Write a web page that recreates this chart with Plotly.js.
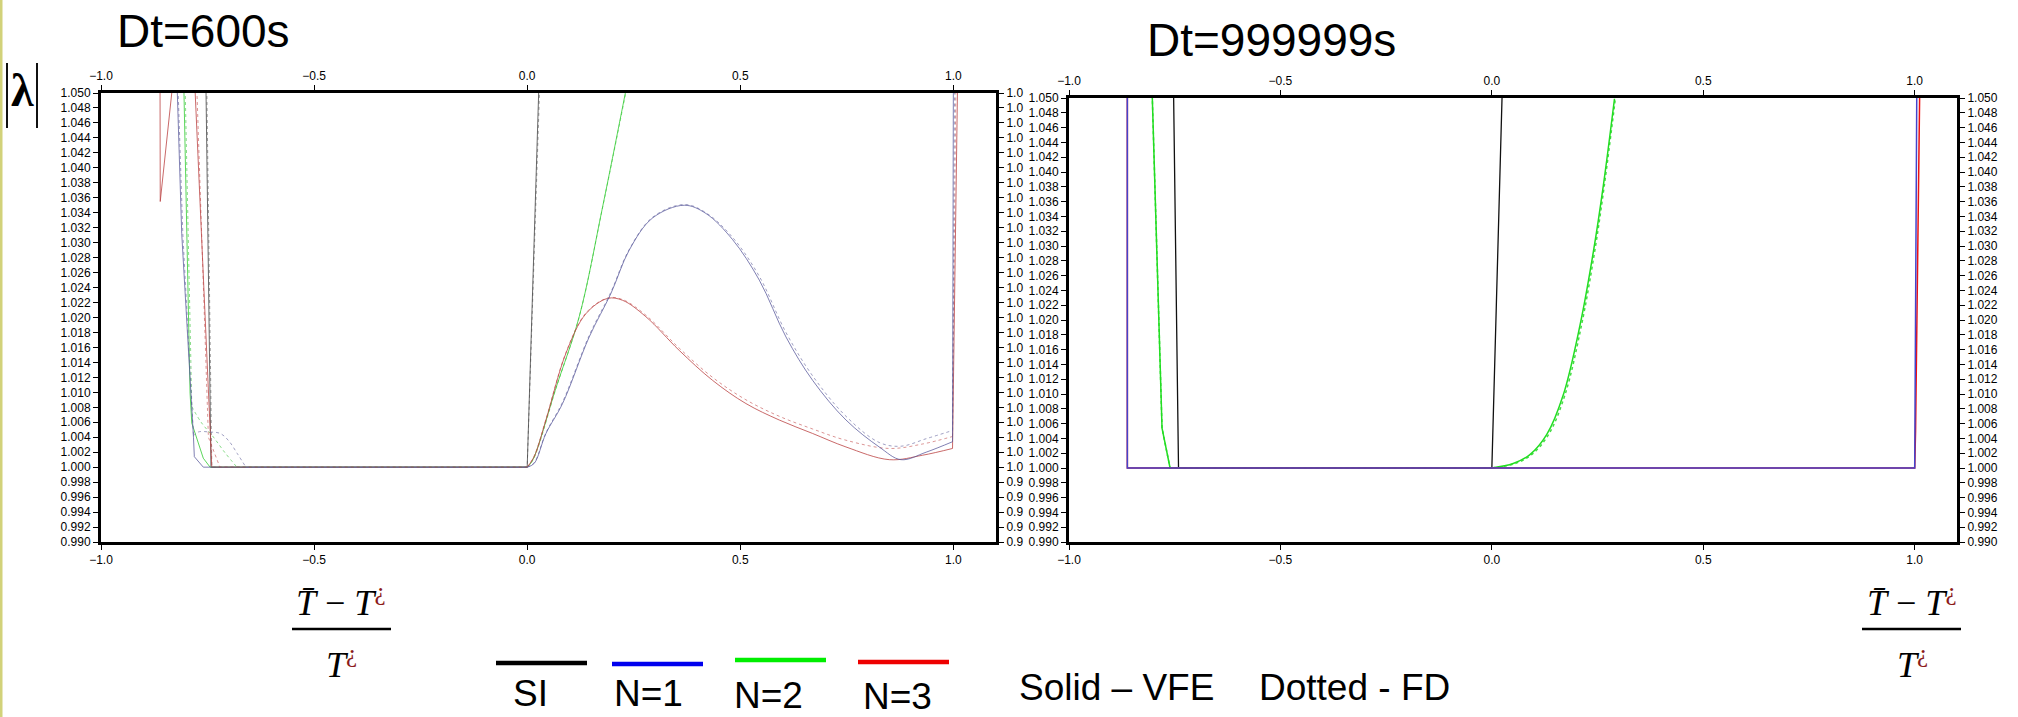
<!DOCTYPE html>
<html>
<head>
<meta charset="utf-8">
<script src="https://cdn.plot.ly/plotly-3.0.1.min.js"></script>
<style>html,body{margin:0;padding:0;background:#fff;}#chart{width:2018px;height:717px;}</style>
</head>
<body>
<div id="chart"></div>
<script>
// ---------- Data: Dt = 600 s (left panel) ----------
const p1_si_x    = [-0.754, -0.742, 0.000, 0.028];
const p1_si_y    = [1.052, 1.000, 1.000, 1.052];
const p1_si_fd_x = [-0.752, -0.740, 0.000, 0.030];
const p1_si_fd_y = [1.052, 1.000, 1.000, 1.052];

const p1_n1_x = [-0.822, -0.8106, -0.783, -0.781, -0.760, 0.000, 0.0164, 0.044, 0.083, 0.1455, 0.1964, 0.2394, 0.2942, 0.3685, 0.4194, 0.482, 0.5446, 0.6072, 0.6698, 0.748, 0.826, 0.877, 0.936, 0.998, 1.000];
const p1_n1_y = [1.052, 1.0312, 1.0040, 1.0014, 1.0000, 1.0000, 1.0005, 1.0045, 1.0085, 1.0174, 1.0232, 1.0290, 1.0333, 1.0350, 1.0339, 1.0304, 1.0250, 1.0174, 1.0116, 1.0063, 1.0027, 1.0010, 1.0020, 1.0034, 1.052];
const p1_n1_fd_x = [-0.820, -0.808, -0.783, -0.772, -0.745, -0.720, -0.700, -0.680, -0.660, 0.000, 0.0164, 0.044, 0.083, 0.1455, 0.1964, 0.2394, 0.2942, 0.3685, 0.4194, 0.482, 0.5446, 0.6072, 0.6698, 0.748, 0.826, 0.877, 0.936, 0.998, 1.003];
const p1_n1_fd_y = [1.052, 1.0312, 1.0042, 1.0047, 1.0047, 1.0045, 1.0035, 1.0018, 1.0000, 1.0000, 1.0006, 1.0046, 1.0087, 1.0176, 1.0234, 1.0291, 1.0334, 1.0351, 1.0340, 1.0307, 1.0255, 1.0180, 1.0122, 1.0068, 1.0033, 1.0028, 1.0038, 1.0049, 1.052];

const p1_n2_x = [-0.806, -0.791, -0.787, -0.760, -0.744, 0.000, 0.0125, 0.067, 0.122, 0.177, 0.232];
const p1_n2_y = [1.052, 1.0099, 1.0059, 1.0012, 1.0000, 1.0000, 1.0009, 1.0105, 1.0201, 1.0348, 1.0505];
const p1_n2_fd_x = [-0.803, -0.787, -0.765, -0.736, -0.710, -0.681, 0.000, 0.014, 0.068, 0.123, 0.178, 0.233];
const p1_n2_fd_y = [1.052, 1.0081, 1.0060, 1.0040, 1.0020, 1.0000, 1.0000, 1.0010, 1.0106, 1.0203, 1.0350, 1.0505];

const p1_n3_x = [-0.8615, -0.861, -0.834, -0.806, -0.779, -0.740, 0.000, 0.0164, 0.044, 0.0908, 0.1377, 0.1886, 0.2238, 0.2786, 0.3568, 0.435, 0.5133, 0.5915, 0.6698, 0.748, 0.8498, 0.928, 0.998, 1.010];
const p1_n3_y = [1.052, 1.0355, 1.0500, 1.0600, 1.0500, 1.0000, 1.0000, 1.0014, 1.0063, 1.0152, 1.0205, 1.02255, 1.0223, 1.0201, 1.0156, 1.0116, 1.0085, 1.0063, 1.0045, 1.0027, 1.0010, 1.0016, 1.0025, 1.052];
const p1_n3_fd_x = [-0.776, -0.748, -0.721, 0.000, 0.0164, 0.044, 0.0908, 0.1377, 0.1886, 0.2238, 0.2786, 0.3568, 0.435, 0.5133, 0.5915, 0.6698, 0.748, 0.8498, 0.928, 0.998, 1.006];
const p1_n3_fd_y = [1.052, 1.0040, 1.0000, 1.0000, 1.0015, 1.0064, 1.0153, 1.0206, 1.0226, 1.0224, 1.0203, 1.0159, 1.0120, 1.0090, 1.0068, 1.0051, 1.0036, 1.0025, 1.0031, 1.0041, 1.052];

// ---------- Data: Dt = 999999 s (right panel) ----------
const p2_si_x = [-0.753, -0.741, 0.000, 0.025];
const p2_si_y = [1.052, 1.000, 1.000, 1.052];
const p2_n1_x = [-0.862, -0.862, 1.000, 1.005];
const p2_n1_y = [1.052, 1.000, 1.000, 1.052];
const p2_n2_x = [-0.804, -0.780, -0.761, 0.000, 0.0505, 0.090, 0.1296, 0.169, 0.2085, 0.240, 0.2637, 0.290];
const p2_n2_y = [1.052, 1.0054, 1.000, 1.000, 1.0006, 1.0018, 1.0045, 1.0099, 1.0193, 1.0292, 1.0382, 1.0499];
const p2_n2_fd_x = [-0.804, -0.780, -0.761, 0.000, 0.055, 0.094, 0.134, 0.173, 0.212, 0.243, 0.266, 0.292];
const p2_n2_fd_y = [1.052, 1.0054, 1.000, 1.000, 1.0006, 1.0018, 1.0045, 1.0099, 1.0193, 1.0292, 1.0382, 1.0499];
const p2_n3_x = [-0.862, -0.862, 1.000, 1.002, 1.012];
const p2_n3_y = [1.052, 1.000, 1.000, 1.005, 1.052];

// ---------- Labels / ticks ----------
const titles = ["Dt=600s", "Dt=999999s"];
const seriesNames = ["SI", "N=1", "N=2", "N=3"];
const seriesColors = ["#000000", "#0000ee", "#00ee00", "#ee0000"];
const styleNote = ["Solid \u2013 VFE", "Dotted - FD"];
const xTicks = [-1, -0.5, 0, 0.5, 1];
const yTicks = [0.990, 0.992, 0.994, 0.996, 0.998, 1.000, 1.002, 1.004, 1.006, 1.008, 1.010,
                1.012, 1.014, 1.016, 1.018, 1.020, 1.022, 1.024, 1.026, 1.028, 1.030,
                1.032, 1.034, 1.036, 1.038, 1.040, 1.042, 1.044, 1.046, 1.048, 1.050];
// the left panel's right-hand labels are cut short by the neighbouring panel in the original
const yTickLabels = yTicks.map(v => v.toFixed(3));
const yTickLabelsCut = yTickLabels.map(s => s.slice(0, 3));

// ---------- Helpers ----------
const W = 2018, H = 717;
const X = px => px / W;
const Y = py => 1 - py / H;

// segs: list of [startIndex, endIndex, shape]; straight pieces stay linear, smooth pieces use splines
function series(x, y, xa, ya, color, dash, width, opacity, segs) {
  segs = segs || [[0, x.length - 1, 'linear']];
  return segs.map(s => ({
    x: x.slice(s[0], s[1] + 1), y: y.slice(s[0], s[1] + 1), xaxis: xa, yaxis: ya,
    type: 'scatter', mode: 'lines',
    line: {color: color, width: width, dash: dash, shape: s[2], smoothing: 1},
    opacity: opacity, hoverinfo: 'skip', showlegend: false
  }));
}
const L = 'linear', S = 'spline';

const data = [].concat(
  // left panel
  series(p1_si_fd_x, p1_si_fd_y, 'x', 'y', '#888888', 'dot', 1, 0.8),
  series(p1_si_x, p1_si_y, 'x', 'y', '#444444', 'solid', 1, 0.8),
  series(p1_n2_fd_x, p1_n2_fd_y, 'x', 'y', '#55cc55', 'dot', 1, 0.7, [[0,1,L],[1,5,S],[5,6,L],[6,11,S]]),
  series(p1_n2_x, p1_n2_y, 'x', 'y', '#33cc33', 'solid', 1, 0.8, [[0,5,L],[5,10,S]]),
  series(p1_n3_fd_x, p1_n3_fd_y, 'x', 'y', '#cc6666', 'dot', 1, 0.7, [[0,3,L],[3,19,S],[19,20,L]]),
  series(p1_n3_x, p1_n3_y, 'x', 'y', '#bb4444', 'solid', 1, 0.8, [[0,6,L],[6,22,S],[22,23,L]]),
  series(p1_n1_fd_x, p1_n1_fd_y, 'x', 'y', '#7777aa', 'dot', 1, 0.7, [[0,2,L],[2,8,S],[8,9,L],[9,27,S],[27,28,L]]),
  series(p1_n1_x, p1_n1_y, 'x', 'y', '#555599', 'solid', 1, 0.75, [[0,5,L],[5,23,S],[23,24,L]]),
  // right panel
  series(p2_si_x, p2_si_y, 'x2', 'y2', '#111111', 'solid', 1.3, 1),
  series(p2_n2_fd_x, p2_n2_fd_y, 'x2', 'y2', '#44dd44', 'dot', 1.5, 1, [[0,3,L],[3,11,S]]),
  series(p2_n2_x, p2_n2_y, 'x2', 'y2', '#22dd22', 'solid', 1.5, 1, [[0,3,L],[3,11,S]]),
  series(p2_n3_x, p2_n3_y, 'x2', 'y2', '#ee1111', 'solid', 1.5, 1),
  series(p2_n1_x, p2_n1_y, 'x2', 'y2', '#4444cc', 'solid', 1.5, 1),
  // empty traces so the mirrored (top / right) axes get drawn
  [{x: [], y: [], xaxis: 'x3', yaxis: 'y3', type: 'scatter', mode: 'lines', showlegend: false, hoverinfo: 'skip'},
   {x: [], y: [], xaxis: 'x4', yaxis: 'y4', type: 'scatter', mode: 'lines', showlegend: false, hoverinfo: 'skip'}]
);

const tickFont = {family: 'Liberation Sans, Arial, sans-serif', size: 12, color: '#000'};
function xax(domain, side, overlay, anchor) {
  const a = {domain: domain, range: [-1, 1.1], side: side, anchor: anchor,
    tickmode: 'array', tickvals: xTicks, tickformat: '.1f',
    ticks: 'outside', ticklen: 5, tickwidth: 1, tickcolor: '#000',
    showline: true, linewidth: 3, linecolor: '#000', showgrid: false, zeroline: false,
    tickfont: tickFont, fixedrange: true, autorange: false};
  if (overlay) a.overlaying = overlay;
  return a;
}
function yax(domain, side, overlay, anchor, labels) {
  const a = {domain: domain, range: [0.99, 1.05], side: side, anchor: anchor,
    tickmode: 'array', tickvals: yTicks, ticktext: labels, tickangle: 0,
    ticks: 'outside', ticklen: 5, tickwidth: 1, tickcolor: '#000',
    showline: true, linewidth: 3, linecolor: '#000', showgrid: false, zeroline: false,
    tickfont: tickFont, fixedrange: true, autorange: false};
  if (overlay) a.overlaying = overlay;
  return a;
}

const d1x = [X(101), X(996)], d1y = [Y(542), Y(93)];
const d2x = [X(1069), X(1957)], d2y = [Y(542), Y(98)];

const annFont = {family: 'Liberation Sans, Arial, sans-serif', color: '#000'};
const serif = {family: 'Liberation Serif, Times New Roman, serif', color: '#000'};
function ann(text, px, py, size, xanchor, font) {
  return {text: text, x: X(px), y: Y(py), xref: 'paper', yref: 'paper',
    xanchor: xanchor || 'center', yanchor: 'middle', showarrow: false,
    font: Object.assign({}, font || annFont, {size: size})};
}
const numer = "<i>T\u0304</i> \u2212 <i>T</i><sup><span style='color:#8b1a1a'>\u00bf</span></sup>";
const denom = "<i>T</i><sup><span style='color:#8b1a1a'>\u00bf</span></sup>";

const annotations = [
  ann(titles[0], 203, 31, 46),
  ann(titles[1], 1271, 40, 46),
  ann("<b>\u03bb</b>", 22, 90, 46, 'center', serif),
  ann(numer, 341, 600, 36, 'center', serif),
  ann(denom, 341, 662, 36, 'center', serif),
  ann(numer, 1912, 600, 36, 'center', serif),
  ann(denom, 1912, 662, 36, 'center', serif),
  ann(seriesNames[0], 530, 693, 37),
  ann(seriesNames[1], 648, 693, 37),
  ann(seriesNames[2], 768, 695, 37),
  ann(seriesNames[3], 897, 696, 37),
  ann(styleNote[0], 1017, 687, 37, 'left'),
  ann(styleNote[1], 1257, 687, 37, 'left')
];

function pline(x0, y0, x1, y1, color, width) {
  return {type: 'line', xref: 'paper', yref: 'paper', x0: X(x0), y0: Y(y0), x1: X(x1), y1: Y(y1),
    line: {color: color, width: width}, layer: 'above'};
}
const legendLines = [[496, 587, 663], [612, 703, 664], [735, 826, 660], [858, 949, 662]];
const shapes = [
  // yellow edge strip
  {type: 'rect', xref: 'paper', yref: 'paper', x0: 0, x1: X(2.5), y0: 0, y1: 1,
   fillcolor: '#d2d27a', line: {width: 0}, layer: 'above'},
  // |lambda| bars
  pline(7, 63, 7, 128, '#111', 2),
  pline(37, 63, 37, 128, '#111', 2),
  // fraction bars
  pline(292, 629, 391, 629, '#000', 2.5),
  pline(1862, 629, 1961, 629, '#000', 2.5)
];
legendLines.forEach((l, i) => shapes.push(pline(l[0], l[2], l[1], l[2], seriesColors[i], 4.5)));

const layout = {
  width: W, height: H, autosize: false,
  margin: {l: 0, r: 0, t: 0, b: 0, pad: 0},
  paper_bgcolor: '#fff', plot_bgcolor: 'rgba(0,0,0,0)',
  showlegend: false,
  xaxis: xax(d1x, 'bottom', null, 'y'),
  yaxis: yax(d1y, 'left', null, 'x', yTickLabels),
  xaxis3: xax(d1x, 'top', 'x', 'y3'),
  yaxis3: yax(d1y, 'right', 'y', 'x3', yTickLabelsCut),
  xaxis2: xax(d2x, 'bottom', null, 'y2'),
  yaxis2: yax(d2y, 'left', null, 'x2', yTickLabels),
  xaxis4: xax(d2x, 'top', 'x2', 'y4'),
  yaxis4: yax(d2y, 'right', 'y2', 'x4', yTickLabels),
  annotations: annotations,
  shapes: shapes
};

Plotly.newPlot('chart', data, layout, {staticPlot: true, displayModeBar: false});
</script>
</body>
</html>
